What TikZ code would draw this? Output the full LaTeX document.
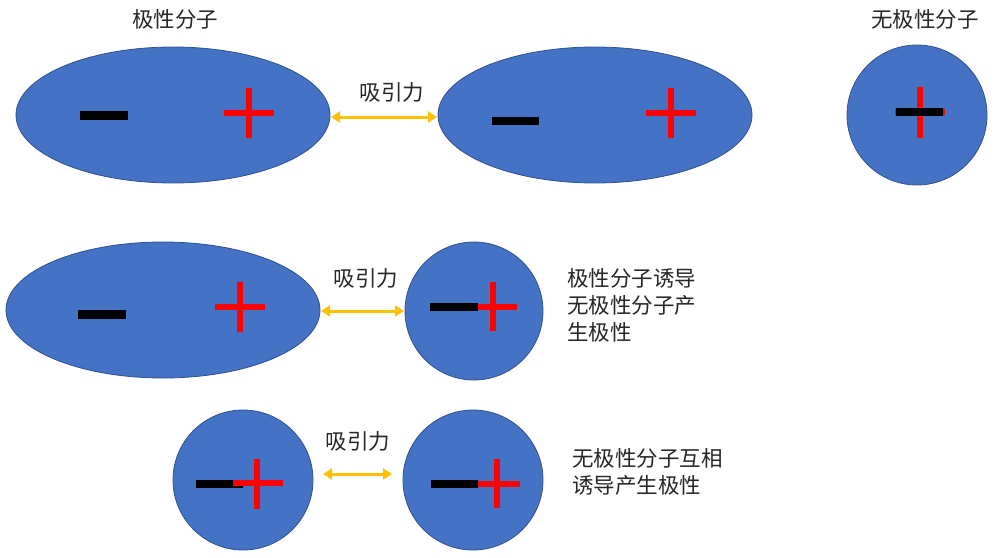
\documentclass[tikz,border=0pt]{standalone}
\usepackage{fontspec}
\newfontfamily\cjk{Noto Sans CJK SC}
\usetikzlibrary{arrows.meta}
\definecolor{molblue}{HTML}{4472C4}
\definecolor{moledge}{HTML}{2F528F}
\definecolor{arrowc}{HTML}{FFC000}
\definecolor{txt}{HTML}{262626}
\tikzset{
  x=1pt, y=-1pt,
  mol/.style={fill=molblue, draw=moledge, line width=0.8pt},
  negbar/.style={line width=9pt, black},
  negbars/.style={line width=8pt, black},
  plusbar/.style={line width=6pt, red},
  attract/.style={arrowc, line width=3pt, {Triangle[length=9pt,width=11pt]}-{Triangle[length=9pt,width=11pt]}, shorten <=1pt, shorten >=1pt},
  lab/.style={font=\cjk\fontsize{21.5pt}{27pt}\selectfont, text=txt, inner sep=0pt},
  desc/.style={lab, align=left, anchor=west}
}
\begin{document}
\begin{tikzpicture}
\useasboundingbox (0,0) rectangle (1000,557);
% row 1
\node[lab] (t1) at (175,19) {极性分子};
\node[lab] (t2) at (925,19) {无极性分子};
\draw[mol] (173,115) ellipse [x radius=157, y radius=68];
\coordinate (e1r) at (330,117);
\draw[negbar] (80,115.5) -- (128,115.5);
\draw[plusbar] (224,113) -- (274,113) (249,88) -- (249,138);
\draw[mol] (595,115) ellipse [x radius=157, y radius=68];
\coordinate (e2l) at (438,117);
\draw[negbars] (492,120.5) -- (539,120.5);
\draw[plusbar] (646,113) -- (696,113) (671,88) -- (671,138);
\draw[attract] (e1r) -- (e2l);
\node[lab] (a1) at (392,92) {吸引力};
\draw[mol] (917,115) circle [radius=70];
\draw[plusbar] (895,112) -- (945,112) (920,87) -- (920,138);
\draw[negbars] (896,112) -- (943,112);
% row 2
\draw[mol] (163,310) ellipse [x radius=157, y radius=68];
\coordinate (e3r) at (320,311);
\draw[negbar] (78,314) -- (126,314);
\draw[plusbar] (215,307) -- (265,307) (240,282) -- (240,332);
\draw[mol] (474,311) circle [radius=69];
\coordinate (c2l) at (405,311);
\draw[negbars] (430,306.5) -- (478,306.5);
\draw[plusbar] (478,307) -- (517,307) (493,282) -- (493,331);
\draw[attract] (e3r) -- (c2l);
\node[lab] (a2) at (366,278) {吸引力};
\node[desc] (d1) at (567,305) {极性分子诱导\\无极性分子产\\生极性};
% row 3
\draw[mol] (243,480) circle [radius=70];
\draw[negbars] (196,484) -- (243,484);
\draw[plusbar] (233,483) -- (283,483) (257,459) -- (257,509);
\draw[mol] (473,480) circle [radius=70];
\draw[negbars] (431,484) -- (478,484);
\draw[plusbar] (478,484) -- (520,484) (497,459) -- (497,508);
\coordinate (c3r) at (322,474);
\coordinate (c4l) at (393,474);
\draw[attract] (c3r) -- (c4l);
\node[lab] (a3) at (358,441) {吸引力};
\node[desc] (d2) at (572,471.5) {无极性分子互相\\诱导产生极性};
\end{tikzpicture}
\end{document}
